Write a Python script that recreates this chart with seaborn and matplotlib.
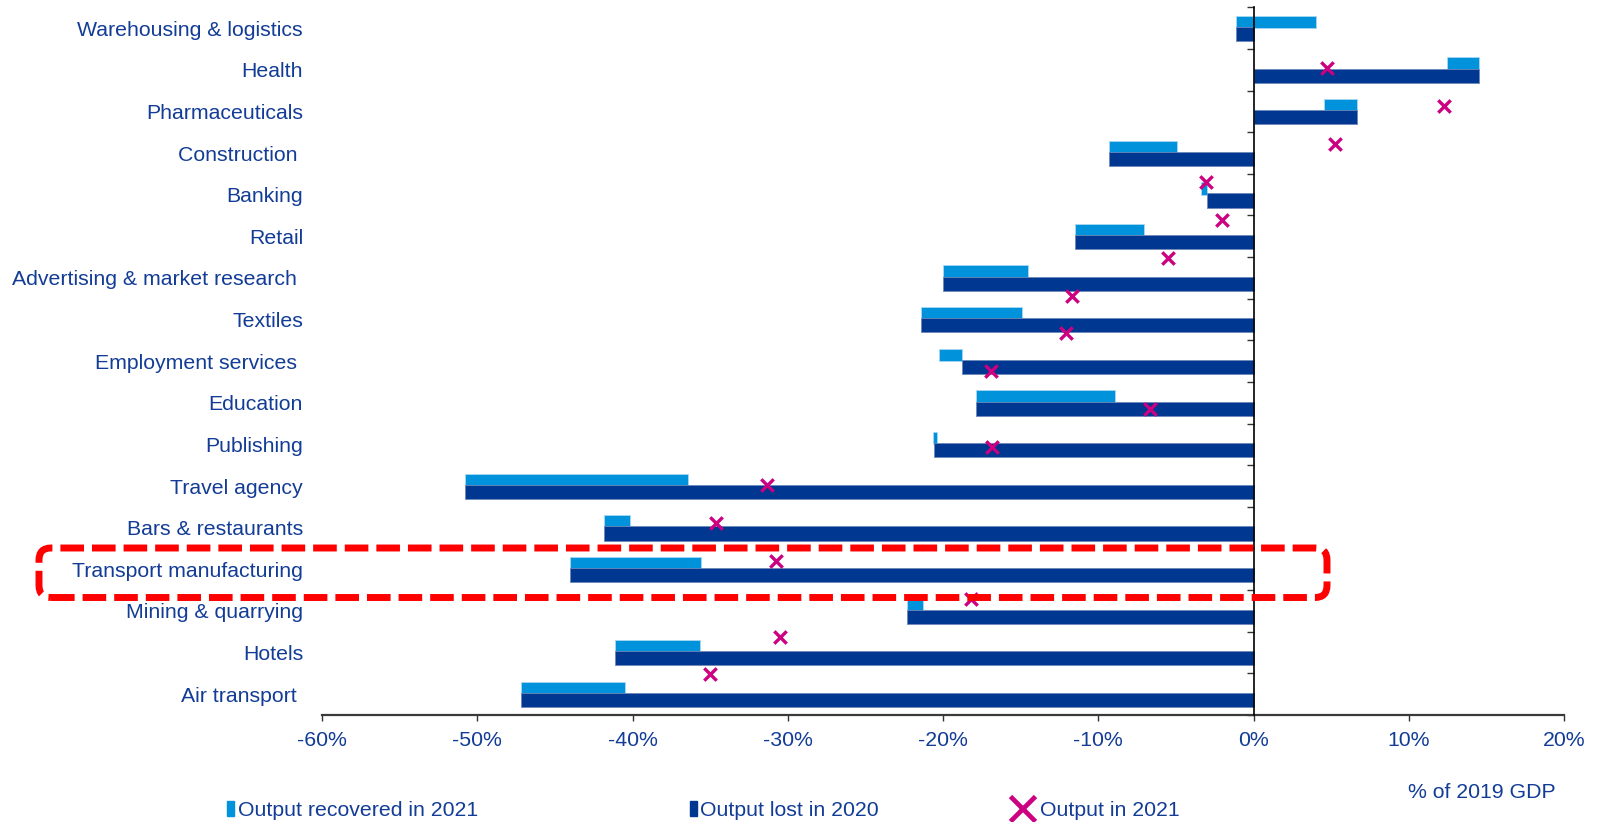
import numpy as np
import matplotlib
matplotlib.use("Agg")
import matplotlib.pyplot as plt
import seaborn as sns
from matplotlib.patches import Patch, FancyBboxPatch
from matplotlib.lines import Line2D
from matplotlib.ticker import FixedLocator
from matplotlib.transforms import IdentityTransform

# --- Data (% of 2019 GDP) ---
sectors = ["Warehousing & logistics", "Health", "Pharmaceuticals", "Construction ",
           "Banking", "Retail", "Advertising & market research ", "Textiles",
           "Employment services ", "Education", "Publishing", "Travel agency",
           "Bars & restaurants", "Transport manufacturing", "Mining & quarrying",
           "Hotels", "Air transport "]
lost_2020 = [-1.1, 14.55, 6.65, -9.3, -3.0, -11.5, -20.0, -21.45, -18.8, -17.85,
             -20.6, -50.8, -41.85, -44.0, -22.3, -41.15, -47.2]
recovered_from = [-1.1, 12.45, 4.55, -9.3, -3.4, -11.5, -20.0, -21.45, -20.25, -17.85,
                  -20.65, -50.8, -41.85, -44.0, -22.3, -41.15, -47.2]
recovered_to = [4.0, 14.55, 6.65, -4.95, -3.0, -7.05, -14.5, -14.9, -18.8, -8.9,
                -20.4, -36.4, -40.15, -35.6, -21.3, -35.65, -40.5]
output_2021 = [4.75, 12.3, 5.26, -3.09, -2.0, -5.48, -11.7, -12.1, -16.92, -6.66,
               -16.82, -31.31, -34.6, -30.73, -18.17, -30.52, -35.0]
x_ticks = [-60, -50, -40, -30, -20, -10, 0, 10, 20]
x_ticklabels = ["-60%", "-50%", "-40%", "-30%", "-20%", "-10%", "0%", "10%", "20%"]

# --- Style ---
LIGHT = "#0093DB"
DARK = "#003791"
MAGENTA = "#CC0080"
TXT = "#123C96"
FS = 15.3

sns.set_theme(style="white")
plt.rcParams["font.family"] = ["Liberation Sans", "DejaVu Sans"]

fig = plt.figure(figsize=(16, 8.22), dpi=100)
ax = fig.add_axes([0.2013, 0.1302, 0.7762, 0.8609])

n = len(sectors)
pos = np.arange(n)
span = np.array(recovered_to) - np.array(recovered_from)

# recovered in 2021 (floating bars, upper half of each row)
ax.barh(pos - 0.15, span, left=recovered_from, height=0.30, color=LIGHT,
        edgecolor="#A8D8F2", linewidth=0.6, zorder=2)

# lost in 2020 (lower half of each row)
sns.barplot(x=lost_2020, y=sectors, orient="h", color=DARK, width=0.34,
            saturation=1, edgecolor="#6F87BA", linewidth=0.6, ax=ax, zorder=3)
for p in ax.patches[n:]:
    p.set_y(p.get_y() + 0.14)

ax.set_xlim(-60, 20)
ax.set_ylim(n - 0.5, -0.5)
ax.set_xlabel("")
ax.set_ylabel("")
ax.set_xticks(x_ticks)
ax.set_xticklabels(x_ticklabels)
ax.set_yticks(pos)
ax.set_yticklabels(sectors)

# output in 2021 markers (own secondary scale, as in the original chart)
ax2 = ax.twinx()
sns.scatterplot(x=output_2021, y=np.arange(n), marker="x", s=80, color=MAGENTA,
                linewidth=2.4, ax=ax2, zorder=5, legend=False)
ax2.set_ylim(17.07, -1.61)
ax2.set_axis_off()

# axes: bottom line, zero line with row separators
for s in ["top", "left"]:
    ax.spines[s].set_visible(False)
ax.spines["bottom"].set_color("#3A3A3A")
ax.spines["bottom"].set_linewidth(1.6)
ax.spines["right"].set_visible(True)
ax.spines["right"].set_position(("data", 0))
ax.spines["right"].set_color("black")
ax.spines["right"].set_linewidth(1.2)
ax.spines["right"].set_zorder(4)

ax.yaxis.set_minor_locator(FixedLocator(np.arange(-0.5, n, 1)))
ax.tick_params(axis="y", which="major", left=False, right=False, labelleft=True,
               labelright=False, length=0, pad=13.7, labelsize=FS, labelcolor=TXT)
ax.tick_params(axis="y", which="minor", left=False, right=True, direction="in",
               length=5, width=1, color="#333333")
ax.tick_params(axis="x", which="major", bottom=True, direction="out", length=4.5,
               width=1, color="#333333", pad=7, labelsize=FS, labelcolor=TXT)

# highlight box round Transport manufacturing
box = FancyBboxPatch((39, 822 - 597.5), 1288, 49.5,
                     boxstyle="round,pad=0,rounding_size=12",
                     transform=IdentityTransform(), fill=False,
                     edgecolor="#FF0000", linewidth=5,
                     linestyle=(0, (3.4, 1.15)), zorder=10)
fig.patches.append(box)

# legend entries, placed one by one as in the original
entries = [
    (Patch(color=LIGHT), "Output recovered in 2021", 0.1419, 0.35, 0.7, 0.15),
    (Patch(color=DARK), "Output lost in 2020", 0.431, 0.35, 0.7, 0.15),
    (Line2D([], [], ls="none", marker="x", markersize=18, mew=3.4, color=MAGENTA),
     "Output in 2021", 0.631, 1.2, 0.7, 0.25),
]
for handle, label, x0, hl, hh, tp in entries:
    fig.legend(handles=[handle], labels=[label], loc="center left",
               bbox_to_anchor=(x0, 0.0145), frameon=False, fontsize=FS,
               labelcolor=TXT, handlelength=hl, handleheight=hh,
               handletextpad=tp, borderpad=0, borderaxespad=0)

fig.text(0.9725, 0.0353, "% of 2019 GDP", ha="right", va="center",
         fontsize=FS, color=TXT)

fig.savefig("out.png", dpi=100)
